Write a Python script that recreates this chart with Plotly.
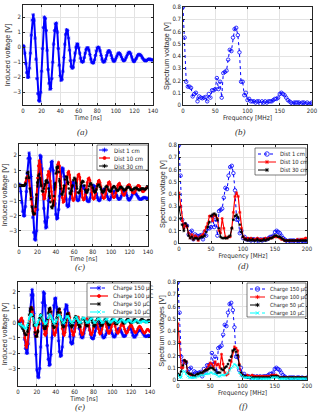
import plotly.graph_objects as go

W, H = 320, 416

# sample axes
time_ns = list(range(0, 141))
freq_mhz = [2.5 * k for k in range(81)]

time_ticks = [0, 20, 40, 60, 80, 100, 120, 140]
volt_ticks = [-3, -2, -1, 0, 1, 2]
freq_ticks = [0, 50, 100, 150, 200]
spec_ticks = [0, 0.1, 0.2, 0.3, 0.4, 0.5, 0.6, 0.7, 0.8]

# (a) / (c) reference signal, 1 cm
volt_1cm = [
    0.10, 0.05, -0.4, -1.1, -1.7, -2.0, -2.0, -1.4, -0.4, 0.8,
    1.8, 2.15, 1.8, 0.6, -0.8, -2.1, -3.1, -3.55, -3.6, -3.0,
    -1.6, -0.1, 1.3, 2.0, 1.9, 1.1, -0.2, -1.5, -2.4, -2.8,
    -2.75, -2.1, -1.0, 0.2, 1.1, 1.55, 1.6, 1.0, -0.1, -1.2,
    -1.9, -2.2, -2.15, -1.6, -0.7, 0.2, 0.85, 1.15, 1.1, 0.6,
    -0.2, -0.9, -1.3, -1.4, -1.35, -0.9, -0.4, 0.0, 0.2, 0.2,
    -0.05, -0.4, -0.75, -0.95, -1.0, -0.95, -0.7, -0.4, -0.15, -0.05,
    -0.05, -0.2, -0.5, -0.8, -1.0, -1.05, -1.05, -0.85, -0.55, -0.25,
    -0.05, 0.0, -0.05, -0.25, -0.55, -0.8, -0.95, -1.0, -0.95, -0.8,
    -0.55, -0.35, -0.25, -0.25, -0.35, -0.55, -0.75, -0.9, -0.95, -0.9,
    -0.75, -0.6, -0.45, -0.4, -0.4, -0.5, -0.65, -0.8, -0.9, -0.9,
    -0.85, -0.7, -0.55, -0.4, -0.35, -0.35, -0.45, -0.65, -0.85, -0.95,
    -0.95, -0.85, -0.75, -0.6, -0.5, -0.5, -0.5, -0.55, -0.65, -0.75,
    -0.85, -0.9, -0.9, -0.9, -0.85, -0.8, -0.8, -0.8, -0.85, -0.85,
    -0.85]

volt_10cm = [
    0.0, 0.0, 0.0, 0.0, 0.0, 0.0, 0.05, 0.2, 0.45, 0.6,
    0.55, 0.3, -0.2, -0.8, -1.3, -1.7, -1.9, -1.9, -1.5, -0.6,
    0.5, 1.3, 1.65, 1.4, 0.8, 0.0, -0.6, -0.9, -0.85, -0.4,
    0.2, 0.7, 0.95, 0.8, 0.3, -0.4, -1.0, -1.3, -1.3, -0.9,
    -0.1, 0.8, 1.4, 1.55, 1.3, 0.6, -0.2, -0.8, -1.1, -1.05,
    -0.7, -0.1, 0.5, 0.85, 0.95, 0.7, 0.2, -0.4, -0.85, -1.0,
    -0.9, -0.55, -0.05, 0.4, 0.7, 0.75, 0.55, 0.1, -0.4, -0.8,
    -0.95, -0.9, -0.6, -0.2, 0.2, 0.45, 0.5, 0.35, 0.0, -0.45,
    -0.8, -0.9, -0.85, -0.55, -0.2, 0.1, 0.3, 0.35, 0.2, -0.1,
    -0.5, -0.8, -0.85, -0.8, -0.55, -0.25, 0.0, 0.2, 0.25, 0.1,
    -0.2, -0.5, -0.75, -0.8, -0.75, -0.5, -0.25, 0.0, 0.1, 0.15,
    0.0, -0.25, -0.5, -0.6, -0.65, -0.55, -0.35, -0.15, 0.0, 0.05,
    0.05, -0.1, -0.3, -0.45, -0.5, -0.5, -0.4, -0.25, -0.1, 0.0,
    0.0, -0.05, -0.2, -0.3, -0.4, -0.4, -0.35, -0.25, -0.15, -0.1,
    -0.1]

volt_30cm = [
    0.0, 0.0, 0.0, 0.0, 0.0, 0.0, 0.0, 0.1, 0.5, 0.85,
    0.9, 0.5, -0.2, -0.9, -1.4, -1.75, -1.9, -1.85, -1.4, -0.6,
    0.2, 0.65, 0.75, 0.5, 0.0, -0.35, -0.4, -0.2, 0.1, 0.3,
    0.35, 0.2, -0.2, -0.7, -1.1, -1.4, -1.5, -1.3, -0.7, 0.1,
    0.8, 1.2, 1.25, 0.9, 0.3, -0.2, -0.55, -0.6, -0.4, 0.0,
    0.4, 0.6, 0.55, 0.2, -0.2, -0.5, -0.55, -0.35, 0.0, 0.35,
    0.5, 0.45, 0.15, -0.2, -0.45, -0.5, -0.35, -0.05, 0.2, 0.3,
    0.25, 0.0, -0.3, -0.45, -0.45, -0.3, -0.05, 0.1, 0.15, 0.05,
    -0.15, -0.35, -0.45, -0.4, -0.25, -0.05, 0.05, 0.05, -0.1, -0.25,
    -0.4, -0.45, -0.4, -0.25, -0.1, -0.05, -0.1, -0.25, -0.35, -0.4,
    -0.35, -0.2, -0.1, -0.05, -0.1, -0.2, -0.3, -0.35, -0.3, -0.2,
    -0.1, -0.1, -0.15, -0.25, -0.3, -0.3, -0.25, -0.15, -0.1, -0.1,
    -0.15, -0.25, -0.3, -0.3, -0.25, -0.2, -0.15, -0.15, -0.2, -0.25,
    -0.3, -0.3, -0.25, -0.2, -0.2, -0.2, -0.25, -0.25, -0.2, -0.15,
    -0.1]

volt_150uc = [
    0.0, 0.05, 0.1, 0.1, 0.10, 0.05, -0.4, -1.1, -1.7, -2.0,
    -2.0, -1.4, -0.4, 0.8, 1.8, 2.15, 1.8, 0.6, -0.8, -2.1,
    -3.1, -3.55, -3.6, -3.0, -1.6, -0.1, 1.3, 2.0, 1.9, 1.1,
    -0.2, -1.5, -2.4, -2.8, -2.75, -2.1, -1.0, 0.2, 1.1, 1.55,
    1.6, 1.0, -0.1, -1.2, -1.9, -2.2, -2.15, -1.6, -0.7, 0.2,
    0.85, 1.15, 1.1, 0.6, -0.2, -0.9, -1.3, -1.4, -1.35, -0.9,
    -0.4, 0.0, 0.2, 0.2, -0.05, -0.4, -0.75, -0.95, -1.0, -0.95,
    -0.7, -0.4, -0.15, -0.05, -0.05, -0.2, -0.5, -0.8, -1.0, -1.05,
    -1.05, -0.85, -0.55, -0.25, -0.05, 0.0, -0.05, -0.25, -0.55, -0.8,
    -0.95, -1.0, -0.95, -0.8, -0.55, -0.35, -0.25, -0.25, -0.35, -0.55,
    -0.75, -0.9, -0.95, -0.9, -0.75, -0.6, -0.45, -0.4, -0.4, -0.5,
    -0.65, -0.8, -0.9, -0.9, -0.85, -0.7, -0.55, -0.4, -0.35, -0.35,
    -0.45, -0.65, -0.85, -0.95, -0.95, -0.85, -0.75, -0.6, -0.5, -0.5,
    -0.5, -0.55, -0.65, -0.75, -0.85, -0.9, -0.9, -0.9, -0.85, -0.85,
    -0.9]

volt_100uc = [
    0.0, 0.0, 0.1, 0.25, 0.3, 0.1, -0.4, -1.0, -1.5, -1.65,
    -1.4, -0.7, 0.1, 0.7, 1.0, 0.95, 0.5, -0.1, -0.6, -0.9,
    -0.9, -0.6, -0.1, 0.3, 0.5, 0.45, 0.1, -0.35, -0.75, -0.85,
    -0.7, -0.25, 0.3, 0.75, 0.9, 0.7, 0.2, -0.35, -0.75, -0.85,
    -0.65, -0.2, 0.3, 0.7, 0.85, 0.6, 0.1, -0.4, -0.75, -0.85,
    -0.65, -0.2, 0.25, 0.55, 0.6, 0.35, -0.1, -0.55, -0.8, -0.85,
    -0.6, -0.2, 0.15, 0.35, 0.35, 0.1, -0.3, -0.65, -0.8, -0.75,
    -0.45, -0.1, 0.15, 0.25, 0.15, -0.15, -0.5, -0.75, -0.8, -0.65,
    -0.35, -0.05, 0.1, 0.1, -0.1, -0.4, -0.65, -0.75, -0.7, -0.45,
    -0.15, 0.0, 0.05, -0.05, -0.3, -0.55, -0.7, -0.7, -0.55, -0.3,
    -0.1, 0.0, -0.05, -0.25, -0.5, -0.65, -0.7, -0.6, -0.4, -0.2,
    -0.1, -0.1, -0.25, -0.45, -0.6, -0.7, -0.65, -0.5, -0.3, -0.2,
    -0.15, -0.25, -0.4, -0.55, -0.65, -0.65, -0.55, -0.4, -0.3, -0.25,
    -0.3, -0.4, -0.55, -0.65, -0.7, -0.65, -0.55, -0.45, -0.45, -0.55,
    -0.6]

volt_50uc = [
    0.0, -0.05, -0.1, -0.2, -0.3, -0.4, -0.55, -0.7, -0.8, -0.8,
    -0.6, -0.1, 0.5, 0.9, 1.0, 0.85, 0.4, -0.2, -0.65, -0.9,
    -0.9, -0.6, -0.1, 0.3, 0.5, 0.45, 0.15, -0.2, -0.4, -0.4,
    -0.2, 0.2, 0.6, 0.9, 0.95, 0.7, 0.2, -0.2, -0.35, -0.3,
    -0.05, 0.3, 0.65, 0.85, 0.9, 0.65, 0.2, -0.15, -0.3, -0.25,
    0.0, 0.3, 0.55, 0.6, 0.45, 0.1, -0.2, -0.3, -0.2, 0.05,
    0.3, 0.4, 0.35, 0.1, -0.15, -0.3, -0.25, -0.05, 0.2, 0.3,
    0.25, 0.05, -0.15, -0.25, -0.2, 0.0, 0.2, 0.25, 0.2, 0.0,
    -0.2, -0.25, -0.15, 0.05, 0.2, 0.25, 0.15, -0.05, -0.2, -0.2,
    -0.1, 0.05, 0.2, 0.2, 0.1, -0.05, -0.15, -0.15, -0.05, 0.1,
    0.2, 0.2, 0.1, -0.05, -0.1, -0.1, 0.0, 0.1, 0.2, 0.2,
    0.1, 0.0, -0.05, -0.05, 0.05, 0.15, 0.2, 0.2, 0.1, 0.0,
    0.0, 0.0, 0.1, 0.2, 0.2, 0.15, 0.05, 0.0, 0.0, 0.05,
    0.15, 0.2, 0.2, 0.15, 0.1, 0.05, 0.05, 0.1, 0.15, 0.15,
    0.15]

volt_10uc = [
    -0.1, -0.1, -0.1, -0.15, -0.2, -0.25, -0.3, -0.35, -0.4, -0.35,
    -0.2, 0.05, 0.3, 0.5, 0.55, 0.5, 0.3, 0.0, -0.15, -0.2,
    -0.15, 0.0, 0.2, 0.4, 0.5, 0.45, 0.3, 0.1, -0.05, -0.1,
    -0.05, 0.1, 0.3, 0.5, 0.55, 0.45, 0.25, 0.05, -0.05, -0.05,
    0.05, 0.2, 0.4, 0.5, 0.5, 0.35, 0.15, 0.0, -0.05, 0.0,
    0.15, 0.3, 0.4, 0.4, 0.3, 0.15, 0.0, -0.05, 0.0, 0.1,
    0.25, 0.35, 0.35, 0.25, 0.1, 0.0, 0.0, 0.05, 0.2, 0.3,
    0.3, 0.25, 0.1, 0.0, 0.0, 0.05, 0.15, 0.25, 0.3, 0.25,
    0.1, 0.0, 0.0, 0.05, 0.15, 0.25, 0.25, 0.2, 0.1, 0.0,
    0.0, 0.05, 0.15, 0.2, 0.25, 0.2, 0.1, 0.05, 0.0, 0.05,
    0.1, 0.2, 0.2, 0.15, 0.1, 0.0, 0.0, 0.05, 0.1, 0.15,
    0.2, 0.15, 0.1, 0.05, 0.0, 0.05, 0.1, 0.15, 0.15, 0.1,
    0.05, 0.0, 0.0, 0.05, 0.1, 0.15, 0.15, 0.1, 0.05, 0.0,
    0.0, 0.05, 0.1, 0.1, 0.1, 0.05, 0.0, 0.0, 0.05, 0.05,
    0.05]

# spectra, 0..200 MHz every 2.5 MHz
spec_1cm = [
    0.80, 0.55, 0.19, 0.15, 0.15, 0.14, 0.07, 0.09, 0.10, 0.03,
    0.07, 0.06, 0.055, 0.06, 0.065, 0.03, 0.09, 0.06, 0.12, 0.12,
    0.13, 0.22, 0.13, 0.19, 0.06, 0.26, 0.27, 0.28, 0.37, 0.45,
    0.44, 0.55, 0.62, 0.63, 0.57, 0.43, 0.19, 0.19, 0.08, 0.10,
    0.04, 0.05, 0.03, 0.03, 0.03, 0.02, 0.03, 0.03, 0.01, 0.03,
    0.02, 0.03, 0.02, 0.03, 0.03, 0.03, 0.04, 0.05, 0.05, 0.06,
    0.09, 0.10, 0.09, 0.08, 0.06, 0.04, 0.03, 0.02, 0.01, 0.02,
    0.02, 0.02, 0.02, 0.01, 0.02, 0.02, 0.01, 0.02, 0.01, 0.01,
    0.02]

spec_10cm = [
    0.41, 0.30, 0.18, 0.12, 0.15, 0.13, 0.08, 0.04, 0.07, 0.03,
    0.06, 0.05, 0.02, 0.05, 0.06, 0.07, 0.10, 0.13, 0.16, 0.22,
    0.22, 0.18, 0.23, 0.22, 0.20, 0.10, 0.08, 0.20, 0.12, 0.05,
    0.04, 0.05, 0.05, 0.12, 0.25, 0.38, 0.41, 0.38, 0.25, 0.12,
    0.05, 0.04, 0.03, 0.04, 0.03, 0.04, 0.03, 0.03, 0.03, 0.04,
    0.03, 0.03, 0.03, 0.03, 0.04, 0.03, 0.04, 0.04, 0.04, 0.05,
    0.05, 0.05, 0.05, 0.04, 0.03, 0.03, 0.02, 0.02, 0.02, 0.02,
    0.02, 0.02, 0.02, 0.02, 0.03, 0.02, 0.03, 0.03, 0.03, 0.04,
    0.04]

spec_30cm = [
    0.29, 0.20, 0.15, 0.10, 0.16, 0.14, 0.06, 0.04, 0.05, 0.03,
    0.04, 0.04, 0.03, 0.04, 0.05, 0.05, 0.06, 0.09, 0.13, 0.17,
    0.22, 0.23, 0.24, 0.23, 0.19, 0.12, 0.05, 0.04, 0.04, 0.04,
    0.04, 0.05, 0.06, 0.12, 0.19, 0.22, 0.23, 0.21, 0.15, 0.09,
    0.05, 0.03, 0.03, 0.02, 0.03, 0.02, 0.03, 0.02, 0.02, 0.03,
    0.02, 0.02, 0.02, 0.03, 0.02, 0.03, 0.03, 0.04, 0.04, 0.05,
    0.06, 0.06, 0.05, 0.05, 0.04, 0.03, 0.02, 0.02, 0.02, 0.02,
    0.02, 0.02, 0.02, 0.02, 0.02, 0.02, 0.02, 0.02, 0.02, 0.02,
    0.02]

spec_100uc = [
    0.46, 0.31, 0.10, 0.10, 0.16, 0.15, 0.06, 0.05, 0.04, 0.04,
    0.03, 0.03, 0.04, 0.04, 0.05, 0.05, 0.07, 0.08, 0.09, 0.12,
    0.14, 0.13, 0.10, 0.15, 0.12, 0.13, 0.10, 0.21, 0.13, 0.06,
    0.04, 0.05, 0.09, 0.15, 0.23, 0.27, 0.26, 0.24, 0.13, 0.05,
    0.04, 0.03, 0.03, 0.04, 0.03, 0.03, 0.04, 0.03, 0.03, 0.03,
    0.03, 0.03, 0.03, 0.03, 0.03, 0.03, 0.03, 0.03, 0.04, 0.04,
    0.04, 0.04, 0.03, 0.02, 0.02, 0.02, 0.02, 0.02, 0.02, 0.02,
    0.02, 0.02, 0.02, 0.02, 0.02, 0.02, 0.02, 0.02, 0.02, 0.02,
    0.02]

spec_50uc = [
    0.05, 0.04, 0.07, 0.12, 0.16, 0.15, 0.06, 0.05, 0.05, 0.04,
    0.03, 0.04, 0.05, 0.05, 0.06, 0.06, 0.07, 0.08, 0.08, 0.09,
    0.10, 0.10, 0.09, 0.08, 0.06, 0.06, 0.06, 0.09, 0.08, 0.10,
    0.11, 0.13, 0.16, 0.19, 0.24, 0.25, 0.23, 0.20, 0.12, 0.06,
    0.04, 0.03, 0.03, 0.02, 0.02, 0.02, 0.02, 0.02, 0.02, 0.02,
    0.02, 0.02, 0.02, 0.02, 0.02, 0.02, 0.02, 0.02, 0.03, 0.03,
    0.03, 0.03, 0.03, 0.02, 0.02, 0.02, 0.02, 0.02, 0.02, 0.02,
    0.02, 0.02, 0.02, 0.02, 0.02, 0.02, 0.02, 0.02, 0.02, 0.02,
    0.02]

spec_10uc = [
    0.04, 0.02, 0.02, 0.07, 0.07, 0.05, 0.03, 0.02, 0.02, 0.02,
    0.02, 0.02, 0.03, 0.03, 0.04, 0.04, 0.04, 0.05, 0.05, 0.05,
    0.06, 0.06, 0.05, 0.05, 0.04, 0.03, 0.03, 0.04, 0.04, 0.04,
    0.05, 0.06, 0.08, 0.10, 0.11, 0.13, 0.12, 0.10, 0.06, 0.04,
    0.03, 0.02, 0.02, 0.02, 0.02, 0.02, 0.01, 0.01, 0.01, 0.01,
    0.01, 0.01, 0.01, 0.01, 0.01, 0.01, 0.01, 0.01, 0.02, 0.02,
    0.02, 0.02, 0.02, 0.01, 0.01, 0.01, 0.01, 0.01, 0.01, 0.01,
    0.01, 0.01, 0.01, 0.01, 0.01, 0.01, 0.01, 0.01, 0.01, 0.01,
    0.01]

INK = '#262626'
NARROW = "Liberation Sans Narrow, DejaVu Sans Condensed, Liberation Sans, Arial"
TICK_FONT = dict(family=NARROW, size=6, color=INK)
XTITLE_FONT = dict(family=NARROW, size=6.5, color=INK)
YTITLE_FONT = dict(family="Liberation Sans, Arial", size=7.3, color=INK)

# plot style (dense samples hide the dashes) and the legend sample style
STYLE = {
    'blue_t': dict(color='#0000FF', dash='solid', width=2, symbol='asterisk-open', size=3,
                   ldash='dashdot', lwidth=1),
    'red_t': dict(color='#FF0000', dash='solid', width=2, symbol='circle', size=2,
                  ldash='solid', lwidth=1.2),
    'black_t': dict(color='#000000', dash='dash', width=1.8, symbol='asterisk-open', size=2.5,
                    ldash='dash', lwidth=1),
    'cyan_t': dict(color='#00FFFF', dash='dashdot', width=1.8, symbol='x-thin-open', size=2.5,
                   ldash='dashdot', lwidth=1),
    'blue_f': dict(color='#0000FF', dash='dot', width=1, symbol='circle-open', size=3.5,
                   ldash='dot', lwidth=1),
    'red_f': dict(color='#FF0000', dash='solid', width=1.2, symbol='asterisk-open', size=2.5,
                  ldash='solid', lwidth=1),
    'black_f': dict(color='#000000', dash='dash', width=1, symbol='asterisk-open', size=2.5,
                    ldash='dash', lwidth=1),
    'cyan_f': dict(color='#00FFFF', dash='dashdot', width=1, symbol='x-thin-open', size=2.5,
                   ldash='dashdot', lwidth=1),
}


def dom_x(left, right):
    return [left / W, right / W]


def dom_y(top, bottom):
    return [1 - bottom / H, 1 - top / H]


def axis(domain, rng, tickvals, title, anchor, tfont):
    return dict(domain=domain, range=rng, tickvals=tickvals, anchor=anchor,
                title=dict(text=title, font=tfont, standoff=1),
                showline=True, linecolor=INK, linewidth=0.6, mirror='ticks',
                ticks='inside', ticklen=2, tickwidth=0.6, tickcolor=INK,
                showgrid=True, gridcolor='#e3e3e3', gridwidth=0.6, zeroline=False,
                tickfont=TICK_FONT, automargin=False, fixedrange=True)


def series(x, y, key, n):
    st = STYLE[key]
    return go.Scatter(x=x, y=y, mode='lines+markers', xaxis='x' + n, yaxis='y' + n,
                      showlegend=False,
                      line=dict(color=st['color'], dash=st['dash'], width=st['width']),
                      marker=dict(symbol=st['symbol'], size=st['size'], color=st['color'],
                                  line=dict(color=st['color'], width=0.8)))


fig = go.Figure()

# panel geometry in pixels: left, right, top, bottom
panels = {
    '': (23, 153, 5, 105),
    '2': (183, 312, 7, 105),
    '3': (19, 148, 144, 246),
    '4': (179, 307, 145, 243),
    '5': (18, 150, 282, 386),
    '6': (178, 307, 282, 380),
}

# (a)
fig.add_trace(series(time_ns, volt_1cm, 'blue_t', ''))
# (b)
fig.add_trace(series(freq_mhz, spec_1cm, 'blue_f', '2'))
# (c)
fig.add_trace(series(time_ns, volt_1cm, 'blue_t', '3'))
fig.add_trace(series(time_ns, volt_10cm, 'red_t', '3'))
fig.add_trace(series(time_ns, volt_30cm, 'black_t', '3'))
# (d)
fig.add_trace(series(freq_mhz, spec_1cm, 'blue_f', '4'))
fig.add_trace(series(freq_mhz, spec_10cm, 'red_f', '4'))
fig.add_trace(series(freq_mhz, spec_30cm, 'black_f', '4'))
# (e)
fig.add_trace(series(time_ns, volt_150uc, 'blue_t', '5'))
fig.add_trace(series(time_ns, volt_100uc, 'red_t', '5'))
fig.add_trace(series(time_ns, volt_50uc, 'black_t', '5'))
fig.add_trace(series(time_ns, volt_10uc, 'cyan_t', '5'))
# (f)
fig.add_trace(series(freq_mhz, spec_1cm, 'blue_f', '6'))
fig.add_trace(series(freq_mhz, spec_100uc, 'red_f', '6'))
fig.add_trace(series(freq_mhz, spec_50uc, 'black_f', '6'))
fig.add_trace(series(freq_mhz, spec_10uc, 'cyan_f', '6'))

axes = {
    '': ([0, 140], time_ticks, 'Time [ns]', [-3.85, 2.8], volt_ticks, 'Induced voltage [V]'),
    '2': ([0, 200], freq_ticks, 'Frequency [MHz]', [0, 0.8], spec_ticks, 'Spectrum voltage [V]'),
    '3': ([0, 140], time_ticks, 'Time [ns]', [-4.0, 2.75], volt_ticks, 'Induced voltage [V]'),
    '4': ([0, 200], freq_ticks, 'Frequency [MHz]', [0, 0.8], spec_ticks, 'Spectrum voltage [V]'),
    '5': ([0, 140], time_ticks, 'Time [ns]', [-4.15, 2.65], volt_ticks, 'Induced voltage [V]'),
    '6': ([0, 200], freq_ticks, 'Frequency [MHz]', [0, 0.8], spec_ticks, 'Spectrum voltages [V]'),
}

layout_axes = {}
for n, (xr, xt, xtitle, yr, yt, ytitle) in axes.items():
    l, r, t, b = panels[n]
    layout_axes['xaxis' + n] = axis(dom_x(l, r), xr, xt, xtitle, 'y' + n, XTITLE_FONT)
    layout_axes['yaxis' + n] = axis(dom_y(t, b), yr, yt, ytitle, 'x' + n, YTITLE_FONT)

# overlay in pixel units for the legend boxes
layout_axes['xaxis7'] = dict(domain=[0, 1], range=[0, W], visible=False, anchor='y7', fixedrange=True)
layout_axes['yaxis7'] = dict(domain=[0, 1], range=[H, 0], visible=False, anchor='x7', fixedrange=True)

legends = [
    dict(box=(97, 145, 148, 170), rows=[150, 158, 166], sample=(99, 110), text_x=112, size=6,
         entries=[('Dist 1 cm', 'blue_t'), ('Dist 10 cm', 'red_t'), ('Dist 30 cm', 'black_t')]),
    dict(box=(255, 148, 306, 175), rows=[154, 162, 170], sample=(258, 276), text_x=278, size=5.8,
         entries=[('Dist 1 cm', 'blue_f'), ('Dist 10 cm', 'red_f'), ('Dist 30 cm', 'black_f')]),
    dict(box=(87, 283, 150, 317), rows=[288, 296, 304, 312], sample=(90, 108), text_x=111, size=6,
         entries=[('Charge 150 µC', 'blue_t'), ('Charge 100 µC', 'red_t'),
                  ('Charge 50 µC', 'black_t'), ('Charge 10 µC', 'cyan_t')]),
    dict(box=(247, 283, 306, 317), rows=[289, 297, 305, 313], sample=(250, 265), text_x=268, size=5.6,
         entries=[('Charge 150 µC', 'blue_f'), ('Charge 100 µC', 'red_f'),
                  ('Charge 50 µC', 'black_f'), ('Charge 10 µC', 'cyan_f')]),
]

annotations = []
for lg in legends:
    l, t, r, b = lg['box']
    fig.add_trace(go.Scatter(x=[l, r, r, l, l], y=[t, t, b, b, t], mode='lines', fill='toself',
                             fillcolor='white', line=dict(color=INK, width=0.6),
                             xaxis='x7', yaxis='y7', showlegend=False, hoverinfo='skip'))
    for (name, key), yy in zip(lg['entries'], lg['rows']):
        st = STYLE[key]
        x0, x1 = lg['sample']
        fig.add_trace(go.Scatter(x=[x0, x1], y=[yy, yy], mode='lines', xaxis='x7', yaxis='y7',
                                 showlegend=False, hoverinfo='skip',
                                 line=dict(color=st['color'], dash=st['ldash'], width=st['lwidth'])))
        fig.add_trace(go.Scatter(x=[(x0 + x1) / 2], y=[yy], mode='markers', xaxis='x7', yaxis='y7',
                                 showlegend=False, hoverinfo='skip',
                                 marker=dict(symbol=st['symbol'], size=st['size'] + 1, color=st['color'],
                                             line=dict(color=st['color'], width=0.8))))
        annotations.append(dict(text=name, x=lg['text_x'] / W, y=1 - yy / H, xref='paper', yref='paper',
                                xanchor='left', yanchor='middle', showarrow=False,
                                font=dict(family=NARROW, size=lg['size'], color=INK)))

# panel captions
for label, cx, cy in [('(a)', 82, 132), ('(b)', 240, 132), ('(c)', 80, 267),
                      ('(d)', 243, 266), ('(e)', 80, 407), ('(f)', 243, 406)]:
    annotations.append(dict(text='<i>' + label + '</i>', x=cx / W, y=1 - cy / H, xref='paper', yref='paper',
                            xanchor='center', yanchor='middle', showarrow=False,
                            font=dict(family='Liberation Serif, Times New Roman', size=9, color='#333333')))

# transparent plot areas so the full-page legend overlay does not hide the panels
fig.update_layout(width=W, height=H, margin=dict(l=0, r=0, t=0, b=0), autosize=False,
                  plot_bgcolor='rgba(0,0,0,0)', paper_bgcolor='white', showlegend=False,
                  annotations=annotations, **layout_axes)

fig.write_html("out.html", config={'displayModeBar': False},
               post_script="document.body.style.margin='0';")
